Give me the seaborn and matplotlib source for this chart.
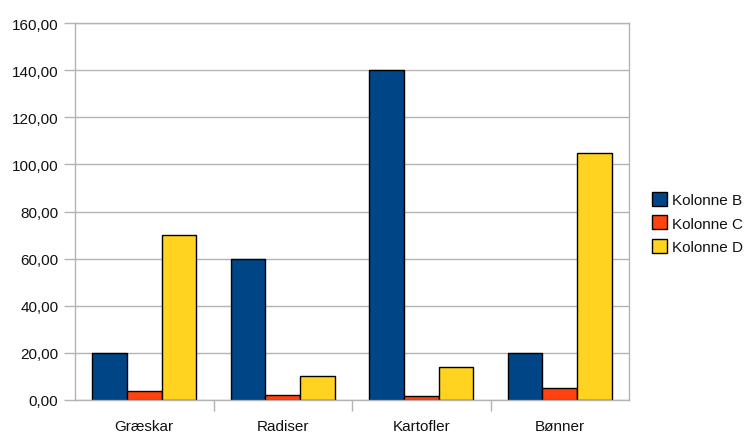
import matplotlib
matplotlib.use("Agg")
import matplotlib.pyplot as plt
import seaborn as sns
import pandas as pd
from matplotlib.ticker import FuncFormatter, FixedLocator

categories = ["Græskar", "Radiser", "Kartofler", "Bønner"]
series = ["Kolonne B", "Kolonne C", "Kolonne D"]
kolonne_b = [20, 60, 140, 20]
kolonne_c = [3.8, 2.2, 1.8, 5.1]
kolonne_d = [70, 10.3, 14, 105]
colors = ["#004586", "#ff420e", "#ffd320"]

rows = []
for name, vals in zip(series, [kolonne_b, kolonne_c, kolonne_d]):
    for c, v in zip(categories, vals):
        rows.append({"cat": c, "series": name, "value": v})
df = pd.DataFrame(rows)

sns.set_style("white")
plt.rcParams["font.family"] = ["Liberation Sans", "DejaVu Sans"]

fig = plt.figure(figsize=(7.46, 4.35), dpi=100)
ax = fig.add_axes([75/746, 1-401/435, (629-75)/746, (401-24)/435])

sns.barplot(data=df, x="cat", y="value", hue="series", palette=colors,
            order=categories, hue_order=series, width=0.75,
            edgecolor="black", linewidth=1.0, ax=ax, saturation=1)

grid = "#b3b3b3"
fs = 11
ax.set_ylim(0, 160)
ax.set_xlim(-0.5, 3.5)
ax.set_yticks(range(0, 161, 20))
ax.yaxis.set_major_formatter(FuncFormatter(lambda v, p: f"{v:.2f}".replace(".", ",")))
ax.yaxis.grid(True, color=grid, linewidth=1)
ax.set_axisbelow(True)
ax.set_xlabel("")
ax.set_ylabel("")
for s in ["left", "right", "top", "bottom"]:
    ax.spines[s].set_visible(True)
    ax.spines[s].set_color(grid)
    ax.spines[s].set_linewidth(1)
ax.tick_params(axis="y", length=8, color=grid, width=1, labelsize=fs, pad=4,
               left=True, labelcolor="#111111")
ax.tick_params(axis="x", which="major", length=0, labelsize=fs, pad=14,
               bottom=True, labelcolor="#111111")
ax.xaxis.set_minor_locator(FixedLocator([0.5, 1.5, 2.5]))
ax.tick_params(axis="x", which="minor", length=8, color=grid, width=1, bottom=True)

leg = ax.legend(loc="center left", bbox_to_anchor=(652/746, 1-224/435),
                bbox_transform=fig.transFigure, frameon=False,
                fontsize=fs, handlelength=1.0, handleheight=1.0, handletextpad=0.3,
                labelspacing=0.55, borderpad=0, borderaxespad=0)
for t in leg.get_texts():
    t.set_color("#111111")

fig.savefig("out.png", dpi=100, facecolor="white")
